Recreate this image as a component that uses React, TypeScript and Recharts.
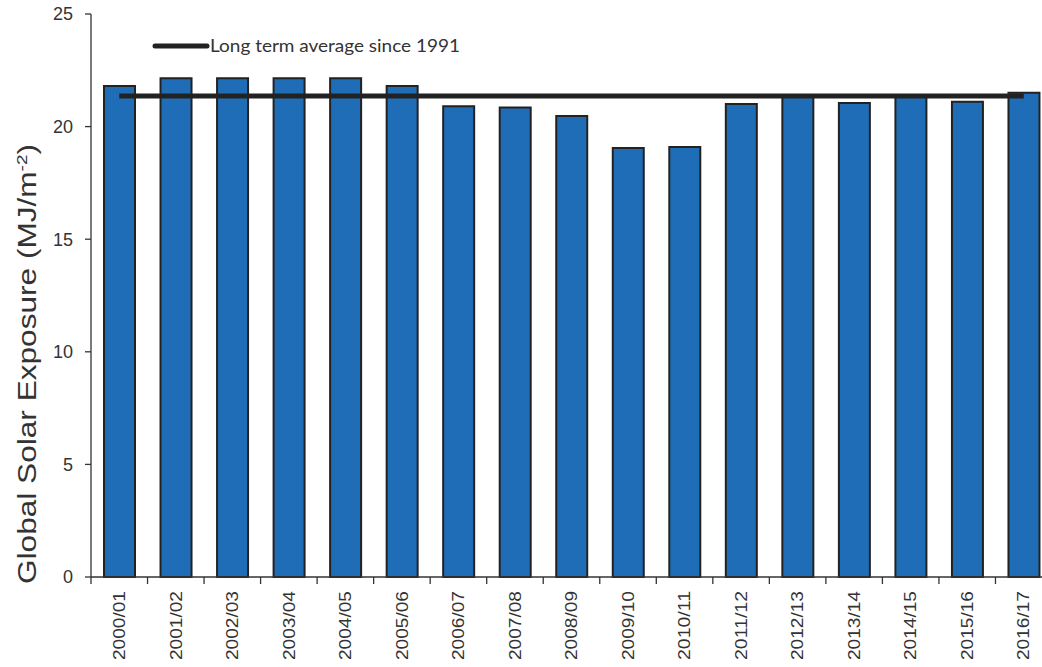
import React from "react"
import { ComposedChart, Bar, Line, XAxis, YAxis } from "recharts"

const seasons = [
  "2000/01", "2001/02", "2002/03", "2003/04", "2004/05", "2005/06",
  "2006/07", "2007/08", "2008/09", "2009/10", "2010/11", "2011/12",
  "2012/13", "2013/14", "2014/15", "2015/16", "2016/17",
]
const exposure = [
  21.8, 22.15, 22.15, 22.15, 22.15, 21.8,
  20.9, 20.85, 20.47, 19.05, 19.09, 21.0,
  21.4, 21.05, 21.4, 21.1, 21.5,
]
const longTermAverage = 21.36
const yTicks = [0, 5, 10, 15, 20, 25]

const data = seasons.map((season, i) => ({
  season,
  exposure: exposure[i],
  avg: longTermAverage,
}))

const CHART_W = 1060
const CHART_H = 667
const MARGIN = { top: 14, right: 8, left: 31, bottom: 0 }
const Y_AXIS_W = 60
const PLOT_W = CHART_W - MARGIN.left - MARGIN.right - Y_AXIS_W
const BAND = PLOT_W / seasons.length
const AXIS = "#333"
const FONT = "'Liberation Sans', Arial, sans-serif"

function SeasonTick(props: any) {
  const { x, y, payload, index } = props
  const half = BAND / 2
  return (
    <g>
      <line x1={x - half} y1={y} x2={x - half} y2={y + 7} stroke={AXIS} strokeWidth={1.3} />
      {index === seasons.length - 1 && (
        <line x1={x + half} y1={y} x2={x + half} y2={y + 7} stroke={AXIS} strokeWidth={1.3} />
      )}
      <text
        x={x}
        y={y + 14}
        dy="0.36em"
        transform={`rotate(-90 ${x} ${y + 14})`}
        textAnchor="end"
        fill={AXIS}
        fontSize={16}
        fontFamily={FONT}
        textLength={69}
        lengthAdjust="spacingAndGlyphs"
      >
        {payload.value}
      </text>
    </g>
  )
}

function YTitle() {
  const cx = 27
  const cy = 364
  return (
    <text
      x={cx}
      y={cy}
      transform={`rotate(-90 ${cx} ${cy})`}
      textAnchor="middle"
      dy="0.36em"
      fill={AXIS}
      fontSize={25}
      fontFamily={FONT}
      textLength={440}
      lengthAdjust="spacingAndGlyphs"
    >
      Global Solar Exposure (MJ/m
      <tspan dy={-9} fontSize={15}>-2</tspan>
      <tspan dy={9}>)</tspan>
    </text>
  )
}

export default function App() {
  return (
    <div
      style={{
        position: "absolute",
        left: 0,
        top: 0,
        width: 1042,
        height: 667,
        overflow: "hidden",
        background: "#fff",
      }}
    >
      <ComposedChart width={CHART_W} height={CHART_H} data={data} margin={MARGIN}>
        <XAxis
          dataKey="season"
          height={CHART_H - 577}
          interval={0}
          tickSize={0}
          tickMargin={0}
          tick={<SeasonTick />}
          axisLine={{ stroke: AXIS, strokeWidth: 1.3 }}
        />
        <YAxis
          domain={[0, 25]}
          ticks={yTicks}
          width={Y_AXIS_W}
          tickSize={6}
          tickMargin={12}
          tick={{ fill: AXIS, fontSize: 18, fontFamily: FONT }}
          axisLine={{ stroke: AXIS, strokeWidth: 1.3 }}
          tickLine={{ stroke: AXIS, strokeWidth: 1.3 }}
          label={{ content: () => <YTitle /> }}
        />
        <Bar
          dataKey="exposure"
          fill="#1E6DB6"
          stroke="#222"
          strokeWidth={2}
          barSize={31}
          isAnimationActive={false}
        />
        <Line
          dataKey="avg"
          stroke="#222"
          strokeWidth={5}
          dot={false}
          activeDot={false}
          isAnimationActive={false}
        />
      </ComposedChart>
      <svg
        width={400}
        height={30}
        style={{ position: "absolute", left: 140, top: 31 }}
      >
        <line x1={15} y1={15} x2={67} y2={15} stroke="#222" strokeWidth={5} strokeLinecap="round" />
        <text
          x={70}
          y={15}
          dy="0.36em"
          fill="#333"
          fontSize={18}
          fontFamily="Lato, 'Open Sans', sans-serif"
          textLength={250}
          lengthAdjust="spacingAndGlyphs"
        >
          Long term average since 1991
        </text>
      </svg>
    </div>
  )
}
